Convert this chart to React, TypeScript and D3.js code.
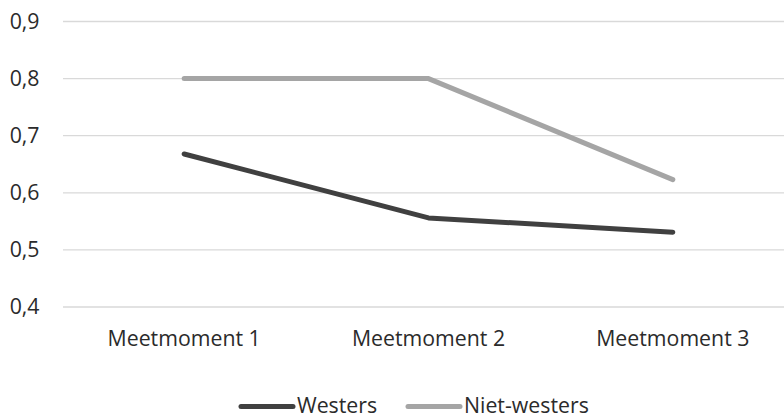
import { useEffect, useRef } from "react";
import { select, scalePoint, scaleLinear, line as d3Line } from "d3";

const categories = ["Meetmoment 1", "Meetmoment 2", "Meetmoment 3"];
const westers = [0.668, 0.556, 0.531];
const nietWesters = [0.8, 0.8, 0.623];
const yTicks = [0.4, 0.5, 0.6, 0.7, 0.8, 0.9];
const seriesNames = ["Westers", "Niet-westers"];
const seriesColors = ["#404040", "#a5a5a5"];

const W = 784;
const H = 419;
const FONT = "'Open Sans', sans-serif";
const FS = 21.3;
const TEXT = "#2b2b2b";

export default function App() {
  const ref = useRef<SVGSVGElement | null>(null);

  useEffect(() => {
    if (!ref.current) return;
    const svg = select(ref.current);
    svg.selectAll("*").remove();

    const left = 62;
    const right = 795;
    const x = scalePoint<string>().domain(categories).range([left, right]).padding(0.5);
    const y = scaleLinear().domain([0.4, 0.9]).range([307, 21.5]);

    // grid
    svg
      .append("g")
      .selectAll("line")
      .data(yTicks)
      .enter()
      .append("line")
      .attr("x1", left + 1)
      .attr("x2", right)
      .attr("y1", (d) => y(d))
      .attr("y2", (d) => y(d))
      .attr("stroke", "#d9d9d9")
      .attr("stroke-width", 1.3);

    // y labels
    svg
      .append("g")
      .selectAll("text")
      .data(yTicks)
      .enter()
      .append("text")
      .attr("x", 39.5)
      .attr("y", (d) => y(d))
      .attr("dy", "0.35em")
      .attr("text-anchor", "end")
      .attr("font-family", FONT)
      .attr("font-size", FS)
      .attr("fill", TEXT)
      .text((d) => d.toFixed(1).replace(".", ","));

    // x labels
    svg
      .append("g")
      .selectAll("text")
      .data(categories)
      .enter()
      .append("text")
      .attr("x", (d) => x(d) ?? 0)
      .attr("y", 346)
      .attr("text-anchor", "middle")
      .attr("font-family", FONT)
      .attr("font-size", FS)
      .attr("fill", TEXT)
      .text((d) => d);

    const lineGen = d3Line<number>()
      .x((_, i) => x(categories[i]) ?? 0)
      .y((d) => y(d));

    [westers, nietWesters].forEach((vals, i) => {
      svg
        .append("path")
        .attr("d", lineGen(vals))
        .attr("fill", "none")
        .attr("stroke", seriesColors[i])
        .attr("stroke-width", 5)
        .attr("stroke-linecap", "round")
        .attr("stroke-linejoin", "round");
    });

    // legend (sits against the bottom edge, as in the original)
    const legendX = [241, 408];
    const ly = 406.5;
    seriesNames.forEach((name, i) => {
      const g = svg.append("g");
      g.append("line")
        .attr("x1", legendX[i])
        .attr("x2", legendX[i] + 52)
        .attr("y1", ly)
        .attr("y2", ly)
        .attr("stroke", seriesColors[i])
        .attr("stroke-width", 5)
        .attr("stroke-linecap", "round");
      g.append("text")
        .attr("x", legendX[i] + 56)
        .attr("y", 413)
        .attr("font-family", FONT)
        .attr("font-size", FS)
        .attr("fill", TEXT)
        .text(name);
    });
  }, []);

  return (
    <svg
      ref={ref}
      width={W}
      height={H}
      style={{ position: "absolute", top: 0, left: 0, background: "#fff" }}
    />
  );
}
